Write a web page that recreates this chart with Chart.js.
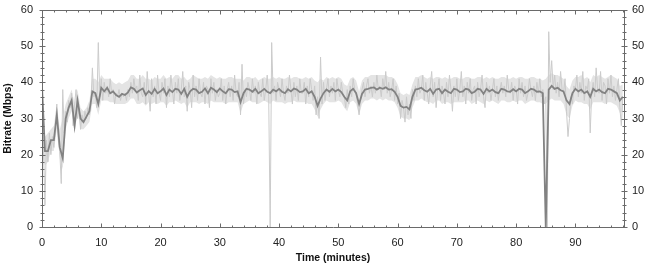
<!DOCTYPE html>
<html>
<head>
<meta charset="utf-8">
<script src="https://cdn.jsdelivr.net/npm/chart.js@4/dist/chart.umd.min.js"></script>
<style>
html,body{margin:0;padding:0;background:#fff;}
#c{display:block;}
</style>
</head>
<body>
<canvas id="c" width="650" height="269"></canvas>
<script>
// ---- data ----
const X_MAX = 98.2;           // minutes shown on the axis
const LIGHT_STEP = 0.25;      // minutes between raw samples
const DARK_STEP = 0.5;        // minutes between smoothed / band samples
const X_TICKS = [0,10,20,30,40,50,60,70,80,90];
const Y_TICKS = [0,10,20,30,40,50,60];

// raw bitrate (Mbps), light grey trace
const rawBitrate = [
 38,22,6,24, 18,26,20,25, 22,27,34,24, 21,12,38,26, 32,29,35,33,
 37,28,34,38, 30,33,27,31, 29,32,30,33, 31,34,44,36, 37,33,51,36,
 41,35,40,37, 39,36,41,37, 38,34,37,36, 38,35,37,36, 37,35,38,36,
 40,37,41,38, 39,35,42,37, 36,40,34,43, 37,32,41,36, 39,34,42,37,
 35,40,37,41, 33,39,36,42, 38,34,40,37, 41,35,38,43, 36,39,32,40,
 38,33,42,36, 39,35,41,37, 36,40,34,39, 38,33,41,37, 40,35,38,36,
 37,41,35,39, 34,38,40,36, 39,35,42,37, 36,40,31,45, 34,38,36,40,
 38,35,41,37, 39,34,40,37, 36,41,35,38, 42,36,0,51, 37,39,35,40,
 38,36,41,37, 35,39,37,42, 38,34,40,36, 39,35,41,37, 37,40,34,39,
 36,41,38,35, 39,31,36,30, 47,34,40,35, 38,41,36,39, 37,40,35,41,
 38,36,40,37, 36,33,38,34, 39,36,41,38, 37,34,31,35, 38,40,36,39,
 41,37,39,36, 40,37,42,38, 39,36,41,38, 43,37,40,36, 38,41,35,39,
 34,37,30,35, 33,29,36,31, 34,30,38,35, 39,36,41,37, 38,42,35,40,
 37,34,39,43, 36,40,33,38, 41,35,39,37, 34,40,36,42, 38,32,39,36,
 41,35,38,43, 36,39,34,40, 37,41,35,38, 39,34,40,36, 38,42,36,33,
 40,37,39,35, 38,41,36,39, 35,38,40,37, 39,36,42,38, 37,40,35,39,
 38,34,41,37, 40,36,39,35, 37,41,38,36, 39,35,40,37, 41,36,38,34,
 36,0,54,40, 46,38,42,37, 40,36,43,38, 37,41,32,25, 30,36,34,39,
 38,42,36,40, 37,43,35,39, 38,41,26,37, 40,36,44,38, 37,43,35,40,
 39,34,41,37, 42,36,39,35, 38,41,33,28, 36
];

// smoothed bitrate (Mbps), dark grey trace
const smoothBitrate = [
 39,21, 21,24, 24,31, 22,19, 30,33, 35,28, 35,30, 29,30.5, 32,37.5, 37,34,
 38.5,37.5, 38.5,37, 37.5,36.5, 36,36.8, 36.5,37.2, 38.6,38.2, 37.2,37.8, 38.3,36.5, 37.6,36.8, 38.2,37,
 37.5,38.3, 36.5,38, 37.3,38.2, 38,36.8, 38.2,36, 37.5,38.2, 38,37, 37.4,38.3, 37,38.5, 38,37.3,
 38.3,37.5, 37,38.1, 38,37.3, 37.5,34.5, 37,38.2, 38,37.4, 38.2,37, 37.5,38.2, 37.4,37, 38,37.5,
 38.2,37.4, 37,38.1, 37.5,38.3, 38,37.3, 37.5,38.2, 37,37.5, 36,33.5, 35.5,37, 38,37.4, 38.2,37.5,
 38,37.3, 36,35, 37.5,38.2, 37,34, 36.8,38, 38.2,38.5, 38.6,38, 38.5,38.2, 38.6,38, 38.1,37.4,
 36,33.5, 33,33.2, 32.5,36, 38,38.2, 38.5,37.8, 37.4,38.2, 36.8,38, 38.2,37, 38,37.4, 37,38.2,
 38,37.3, 37.5,38.2, 38,37, 37.4,38.2, 38,36.8, 38.2,37.5, 38,37.3, 37,38.2, 38,37.5, 37.4,38.1,
 37.5,38.2, 38,37, 37.5,38.2, 38,37.4, 37.5,37, 0,38, 39,38.2, 38.5,37.8, 37.5,35, 34,37,
 38.2,37.5, 38,37, 37.5,36, 38.2,37.5, 38,37.3, 37,38.2, 38,37.5, 37,35, 36
];

// envelope of the raw trace (Mbps), light grey band
const bandHigh = [
 40,25, 26,27, 28,34, 27,30, 34,36, 38,34, 38,33, 32,33, 35,41, 41,40,
 42,41, 41,41, 40,39.5, 40,39.5, 40,40.5, 42,42, 41,41, 42,41, 41,40.5, 41.5,41,
 41,42, 41,41.5, 41,42, 42,41, 41.5,40.5, 41,42, 41.5,41, 41,41.5, 41,42, 41.5,41,
 41.5,41, 41,41.5, 41.5,41, 41,41, 40.5,41.5, 41.5,41, 41.5,40.5, 41,41.5, 41,41, 41.5,41,
 41.5,41, 41,41.5, 41,41.5, 41.5,41, 41,41.5, 41,41.5, 40.5,40, 41,40.5, 41.5,41, 41.5,41,
 41.5,41, 39.5,39, 41,41.5, 40.5,37.5, 40.5,41.5, 41.5,42, 42,42, 42,42, 42,41.5, 41.5,41,
 39.5,37, 36.5,37, 36.5,39.5, 41.5,41.5, 42,41.5, 41,41.5, 41,41.5, 41.5,41, 41.5,41, 41,41.5,
 41.5,41, 41,41.5, 41.5,41, 41,41.5, 41.5,41, 41.5,41, 41.5,41, 41,41.5, 41.5,41, 41,41.5,
 41,41.5, 41.5,41, 41,41.5, 41.5,41, 41,40.5, 41,42, 42.5,42, 42,41.5, 41,39, 38,40.5,
 41.5,41.5, 42,41, 41.5,40, 42,41.5, 42,41.5, 41,41.5, 42,41.5, 41,39, 39.5
];
const bandLow = [
 20,17, 18,21, 21,27, 19,16, 27,30, 32,26, 32,27, 27,28, 29,34, 34,31,
 35,35, 35,34.5, 34.5,34, 34,34, 34,34.5, 35.5,35.5, 34,34, 34.5,33.5, 34.5,34, 34.5,34,
 34.5,34.5, 33.5,34.5, 34.5,35, 34.5,34, 34.5,33, 34.5,34.5, 34.5,34, 34.5,34.5, 34,35, 34.5,34.5,
 34.5,34.5, 34,34.5, 34.5,34.5, 34.5,31.5, 34,34.5, 35,34.5, 34.5,34, 34.5,35, 34.5,34, 35,34.5,
 34.5,34.5, 34,34.5, 34.5,35, 34.5,34.5, 34.5,34.5, 34,34, 32.5,30.5, 32.5,34, 35,34.5, 34.5,34.5,
 35,34.5, 33,32, 34.5,35, 34,31, 34,35, 35,35.5, 35.5,35, 35.5,35, 35.5,35, 35,34.5,
 33,30.5, 30,30, 29.5,33, 35,35, 35.5,35, 34.5,34.5, 34,35, 35,34, 34.5,34.5, 34,34.5,
 34.5,34.5, 34.5,35, 35,34, 34.5,35, 34.5,34, 35,34.5, 35,34.5, 34,35, 35,34.5, 34.5,35,
 34.5,35, 35,34, 34.5,35, 35,34.5, 34.5,34, 34,35, 35.5,35, 35,35, 34,31, 30,33.5,
 35,34.5, 34.5,34, 34,32.5, 34.5,34.5, 34.5,34.5, 34,34.5, 34.5,34, 33.5,31.5, 32
];

const rawPoints = rawBitrate.map((v, i) => ({x: i * LIGHT_STEP, y: v}));
const smoothPoints = smoothBitrate.map((v, i) => ({x: i * DARK_STEP, y: v}));
const highPoints = bandHigh.map((v, i) => ({x: i * DARK_STEP, y: v}));
const lowPoints = bandLow.map((v, i) => ({x: i * DARK_STEP, y: v}));

const AXIS_COLOR = '#6a6a6a';
const FONT = "'Liberation Sans', Arial, sans-serif";

const axisPlugin = {
  id: 'axisBox',
  afterDatasetsDraw(chart) {
    const {ctx, chartArea: a, scales} = chart;
    const x = scales.x, y = scales.y;
    ctx.save();
    ctx.strokeStyle = AXIS_COLOR;
    ctx.lineWidth = 1;
    const L = Math.round(a.left) + 0.5, R = Math.round(a.right) + 0.5;
    const T = Math.round(a.top) + 0.5, B = Math.round(a.bottom) + 0.5;
    ctx.beginPath();
    ctx.rect(L, T, R - L, B - T);
    ctx.stroke();
    ctx.beginPath();
    for (let v = 0; v <= X_MAX; v += 2) {
      const px = Math.round(x.getPixelForValue(v)) + 0.5;
      const len = (v % 10 === 0) ? 4 : 2;
      ctx.moveTo(px, B); ctx.lineTo(px, B - len);
      ctx.moveTo(px, T); ctx.lineTo(px, T + len);
    }
    for (let v = 0; v <= 60; v += 2) {
      const py = Math.round(y.getPixelForValue(v)) + 0.5;
      const len = (v % 10 === 0) ? 3 : 2;
      ctx.moveTo(L - len, py); ctx.lineTo(L + len, py);
      ctx.moveTo(R - len, py); ctx.lineTo(R + len, py);
    }
    ctx.stroke();
    ctx.restore();
  }
};

new Chart(document.getElementById('c'), {
  type: 'line',
  data: {
    datasets: [
      {data: smoothPoints, borderColor: '#828282', borderWidth: 1.8, pointRadius: 0, tension: 0, order: 1},
      {data: rawPoints, borderColor: '#cbcbcb', borderWidth: 1, pointRadius: 0, tension: 0, order: 2},
      {data: highPoints, borderWidth: 0, borderColor: 'rgba(0,0,0,0)', backgroundColor: '#e4e4e4', pointRadius: 0, tension: 0, fill: '+1', order: 3},
      {data: lowPoints, borderWidth: 0, borderColor: 'rgba(0,0,0,0)', pointRadius: 0, tension: 0, fill: false, order: 4}
    ]
  },
  options: {
    responsive: false,
    devicePixelRatio: 1,
    animation: false,
    layout: {padding: {top: 10, right: 0, left: 0, bottom: 0}},
    plugins: {legend: {display: false}, tooltip: {enabled: false}},
    scales: {
      x: {
        type: 'linear', min: 0, max: X_MAX, position: 'bottom',
        afterBuildTicks: s => { s.ticks = X_TICKS.map(v => ({value: v})); },
        ticks: {font: {family: FONT, size: 11}, color: '#222', maxRotation: 0, padding: 1, autoSkip: false},
        grid: {display: false},
        border: {display: false},
        title: {display: true, text: 'Time (minutes)', font: {family: FONT, size: 10.5, weight: 'bold'}, color: '#111', padding: {top: 0, bottom: 5}},
        afterFit: s => { s.height = 42; }
      },
      y: {
        min: 0, max: 60, position: 'left',
        afterBuildTicks: s => { s.ticks = Y_TICKS.map(v => ({value: v})); },
        ticks: {font: {family: FONT, size: 11}, color: '#222', padding: 1},
        grid: {display: false},
        border: {display: false},
        title: {display: true, text: 'Bitrate (Mbps)', font: {family: FONT, size: 10.5, weight: 'bold'}, color: '#111', padding: {top: 2, bottom: 2}},
        afterFit: s => { s.width = 42; }
      },
      y2: {
        min: 0, max: 60, position: 'right',
        afterBuildTicks: s => { s.ticks = Y_TICKS.map(v => ({value: v})); },
        ticks: {font: {family: FONT, size: 11}, color: '#222', padding: 0},
        grid: {display: false},
        border: {display: false},
        afterFit: s => { s.width = 26; }
      }
    }
  },
  plugins: [axisPlugin]
});
</script>
</body>
</html>
